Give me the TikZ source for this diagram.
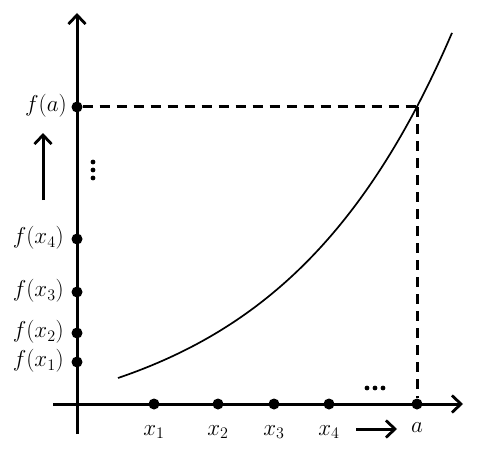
\RequirePackage{fix-cm}
\documentclass[tikz,border=0pt]{standalone}
\usetikzlibrary{arrows.meta}
\begin{document}
\begin{tikzpicture}[x=1pt,y=-1pt,
  dot/.style={circle,fill,inner sep=0pt,minimum size=11pt},
  smalldot/.style={circle,fill,inner sep=0pt,minimum size=4.8pt},
  axis/.style={line width=3pt,-{Straight Barb[length=9pt,width=17pt,line width=2.8pt]}},
  guide/.style={line width=3pt,dash pattern=on 10pt off 7pt},
  lbl/.style={font=\fontsize{23}{27}\selectfont,inner sep=1pt},
]
\useasboundingbox (0,0) rectangle (477,452);
% axes
\coordinate (xs) at (53,404);
\coordinate (xe) at (463,404);
\coordinate (ys) at (77,434);
\coordinate (ye) at (77,13);
\draw[axis] (xs) -- (xe);
\draw[axis] (ys) -- (ye);
% curve
\draw[line width=1.7pt,smooth] plot[domain=118:452,samples=60]
  (\x,{437.2-59.2*exp(0.00575*(\x-118))});
% dots on x axis
\node[dot] (x1) at (154,404) {};
\node[dot] (x2) at (218,404) {};
\node[dot] (x3) at (274,404) {};
\node[dot] (x4) at (329,404) {};
\node[dot] (xa) at (417,404) {};
% dots on y axis
\node[dot] (fa) at (77,107) {};
\node[dot] (f4) at (77,239) {};
\node[dot] (f3) at (77,292) {};
\node[dot] (f2) at (77,333) {};
\node[dot] (f1) at (77,362) {};
% guide lines
\coordinate (p) at (417,107);
\draw[guide] (fa) -- (p);
\draw[guide] (p) -- (xa);
% x labels
\node[lbl] (lx1) at (154,432) {$x_1$};
\node[lbl] (lx2) at (218,432) {$x_2$};
\node[lbl] (lx3) at (274,432) {$x_3$};
\node[lbl] (lx4) at (329,432) {$x_4$};
\node[lbl] (la) at (417,428) {$a$};
% y labels
\node[lbl,anchor=east] (lfa) at (68,106) {$f(a)$};
\node[lbl,anchor=east] (lf4) at (65,238) {$f(x_4)$};
\node[lbl,anchor=east] (lf3) at (65,291) {$f(x_3)$};
\node[lbl,anchor=east] (lf2) at (65,332) {$f(x_2)$};
\node[lbl,anchor=east] (lf1) at (65,361) {$f(x_1)$};
% direction arrows
\coordinate (va) at (43,200);
\coordinate (vb) at (43,133);
\draw[axis] (va) -- (vb);
\coordinate (ha) at (356,429);
\coordinate (hb) at (397,429);
\draw[axis] (ha) -- (hb);
% ellipsis dots
\node[smalldot] (vd1) at (93,162) {};
\node[smalldot] (vd2) at (93,170) {};
\node[smalldot] (vd3) at (93,178) {};
\node[smalldot] (hd1) at (367,388) {};
\node[smalldot] (hd2) at (375,388) {};
\node[smalldot] (hd3) at (383,388) {};
\end{tikzpicture}
\end{document}
